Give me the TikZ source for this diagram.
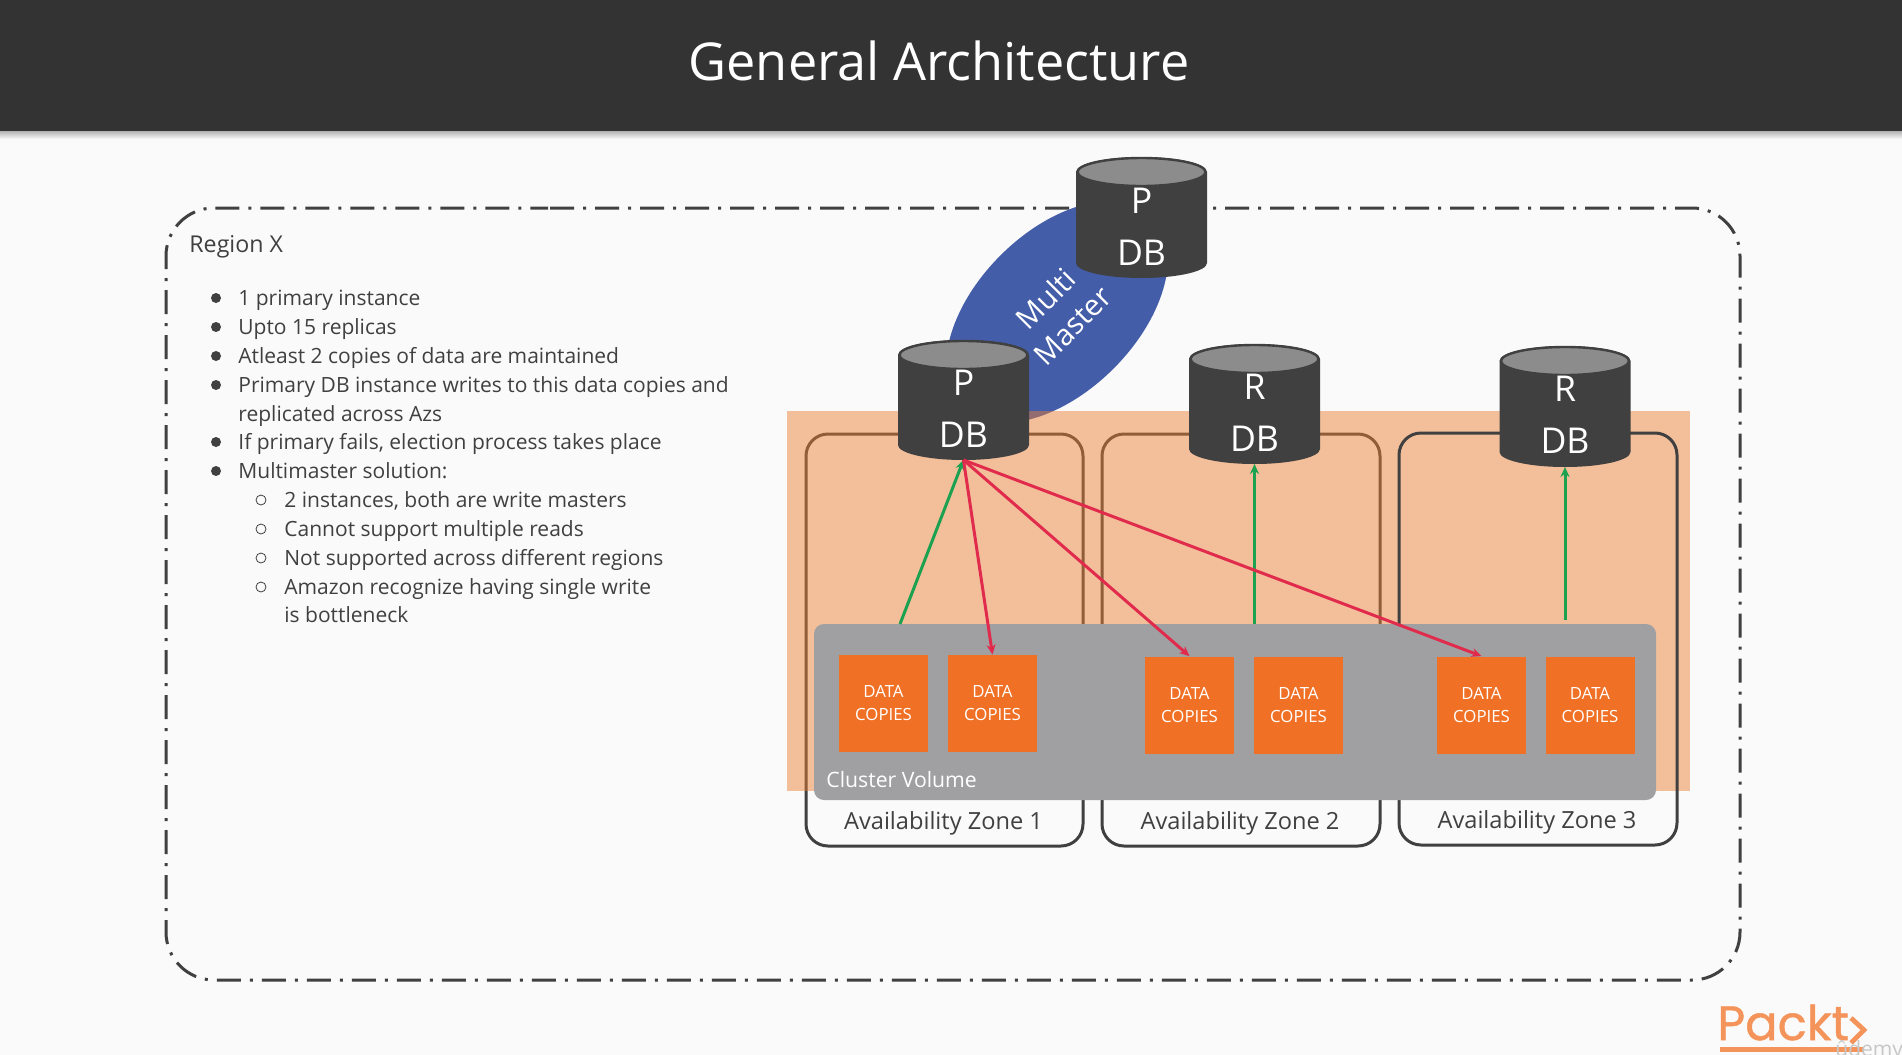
\documentclass[tikz,border=0pt]{standalone}
\usepackage{fontspec}
\setmainfont{Open Sans}
\newfontfamily\logofont[FakeBold=1]{Poppins}
\usetikzlibrary{arrows.meta,shapes.geometric}
\definecolor{bgc}{HTML}{FAFAFA}
\definecolor{headc}{HTML}{333333}
\definecolor{inkc}{HTML}{404040}
\definecolor{capc}{HTML}{8C8C8C}
\definecolor{peachc}{HTML}{ED7D31}
\definecolor{panelc}{HTML}{A0A0A2}
\definecolor{datac}{HTML}{F07126}
\definecolor{bluec}{HTML}{445DA8}
\definecolor{greenc}{HTML}{1BA14F}
\definecolor{redc}{HTML}{E02B4C}
\definecolor{logoc}{HTML}{F4945A}
\newcommand{\fs}[1]{\fontsize{#1}{#1}\selectfont}
\newcommand{\dcopies}{\raisebox{-.6pt}{DATA}\\\raisebox{-.6pt}{COPIES}}
\tikzset{
  x=.5pt,y=-.5pt,
  zonebox/.style={draw=inkc,line width=1.5pt,rounded corners=11pt},
  dblabel/.style={text=white,align=center,inner sep=0pt,font=\fontsize{17.8}{26}\selectfont},
  databox/.style={fill=datac,minimum width=44.5pt,minimum height=48.5pt,inner sep=0pt,text=white,align=center,font=\fontsize{8.4}{11.5}\selectfont},
  zonelabel/.style={text=inkc,inner sep=0pt,font=\fs{11.8}},
  bodyline/.style={text=inkc,inner sep=0pt,anchor=base west,font=\fs{10.5}},
  dotbullet/.style={circle,fill=inkc,minimum size=5pt,inner sep=0pt},
  ringbullet/.style={circle,draw=inkc,line width=.4pt,minimum size=5pt,inner sep=0pt},
  gline/.style={draw=greenc,line width=1.5pt,-{Stealth[length=5pt,width=4.5pt]}},
  rline/.style={draw=redc,line width=1.5pt,-{Stealth[length=5pt,width=4.5pt]}},
}
\newcommand{\dbcyl}[6]{% name, cx, top, bottom, letter, text offset
  \fill[inkc] (#2-65.5,#3+15) -- (#2-65.5,#4-15)
     arc[start angle=180,end angle=360,x radius=32.75pt,y radius=7.5pt]
     -- (#2+65.5,#3+15)
     arc[start angle=0,end angle=180,x radius=32.75pt,y radius=7.5pt] -- cycle;
  \draw[draw=inkc,fill=capc,line width=1.2pt] (#2,#3+15) ellipse [x radius=32pt,y radius=7pt];
  \path (#2,#3) coordinate (#1-top) (#2,#4) coordinate (#1);
  \node[dblabel] (#1-t) at (#2,#3+#6) {#5\\DB};
}
\begin{document}
\begin{tikzpicture}
\useasboundingbox (0,0) rectangle (1902,1055);
\fill[bgc] (0,0) rectangle (1902,1055);
% header
\shade[top color=black!30,bottom color=bgc] (0,131) rectangle (1902,139);
\fill[headc] (0,0) rectangle (1902,131);
\node[text=white,inner sep=0pt,font=\fs{26.1}] (title) at (939,61) {General Architecture};
% region
\draw[draw=inkc,line width=1.5pt,rounded corners=24pt,dash pattern=on 12pt off 4.5pt on 1.5pt off 4.5pt,dash phase=21.5pt]
  (500,208) -- (1740,208) -- (1740,980) -- (166,980) -- (166,208) -- cycle;
\node[bodyline,font=\fs{11.6}] (region) at (189,252) {Region X};
% bullet text
\foreach \i/\yy/\tx in {1/305/1 primary instance,2/334/Upto 15 replicas,3/363/Atleast 2 copies of data are maintained,4/392/Primary DB instance writes to this data copies and,6/449/{If primary fails, election process takes place},7/478/Multimaster solution:}{
  \node[dotbullet] (b\i) at (216,\yy-7) {};
  \node[bodyline] (l\i) at (238,\yy) {\tx};
}
\node[bodyline] (l5) at (238,421) {replicated across Azs};
\foreach \i/\yy/\tx in {8/507/{2 instances, both are write masters},9/536/Cannot support multiple reads,10/565/Not supported across different regions,11/594/Amazon recognize having single write}{
  \node[ringbullet] (b\i) at (261,\yy-7) {};
  \node[bodyline] (l\i) at (284,\yy) {\tx};
}
\node[bodyline] (l12) at (284,622) {is bottleneck};
% multi master ellipse
\node[ellipse,fill=bluec,minimum width=135pt,minimum height=80pt,inner sep=0pt,rotate=45] (mm) at (1057,312) {};
% zones 1,2 under the peach band
\draw[zonebox] (806,434) rectangle (1083,846);
\draw[zonebox] (1102,434) rectangle (1380,846);
\fill[peachc,fill opacity=.47] (787,411) rectangle (1690,791);
\draw[zonebox] (1399,433) rectangle (1677,845);
\node[text=white,inner sep=0pt,align=center,rotate=45,font=\fontsize{14.7}{19}\selectfont] (mmt) at (1059,312) {Multi\\Master};
% cylinders
\dbcyl{ptop}{1141.5}{157}{278}{P}{70}
\dbcyl{pdb}{963.5}{340}{460}{P}{69}
\dbcyl{ra}{1254.5}{344}{464}{R}{69}
\dbcyl{rb}{1565}{346}{467}{R}{69}
% cluster panel
\fill[panelc,rounded corners=5pt] (814,624) rectangle (1656,800);
\node[text=white,inner sep=0pt,anchor=west,font=\fs{10.6}] (cv) at (826,780) {Cluster Volume};
\node[databox] (d1) at (883.5,703.5) {\dcopies};
\node[databox] (d2) at (992.5,703.5) {\dcopies};
\node[databox] (d3) at (1189.5,705) {\dcopies};
\node[databox] (d4) at (1298.5,705) {\dcopies};
\node[databox] (d5) at (1481.5,705) {\dcopies};
\node[databox] (d6) at (1590,705) {\dcopies};
\node[zonelabel] (z1) at (943.5,823) {Availability Zone 1};
\node[zonelabel] (z2) at (1240,823) {Availability Zone 2};
\node[zonelabel] (z3) at (1537,822) {Availability Zone 3};
% connectors
\coordinate (ga) at (900,624);
\coordinate (gb) at (1254.5,624);
\coordinate (gc) at (1565,620);
\draw[gline] (ga) -- (pdb);
\draw[gline] (gb) -- (ra);
\draw[gline] (gc) -- (rb);
\draw[rline] (pdb) -- (d2.north);
\draw[rline] (pdb) -- (d3.north);
\draw[rline] (pdb) -- (d5.north);
% logo
\node[text=logoc,inner sep=0pt,anchor=base west,font=\logofont\fs{24}] (logo) at (1717,1040) {Packt};
\coordinate (cha) at (1851,1018);
\coordinate (chb) at (1864,1030);
\coordinate (chc) at (1851,1043);
\draw[logoc,line width=2.4pt] (cha) -- (chb) -- (chc);
\fill[logoc] (1720,1047) rectangle (1864,1052);
\node[text=black!22,inner sep=0pt,anchor=base west,font=\fs{10.5}] (ud) at (1835,1056) {ûdemy};
\end{tikzpicture}
\end{document}
